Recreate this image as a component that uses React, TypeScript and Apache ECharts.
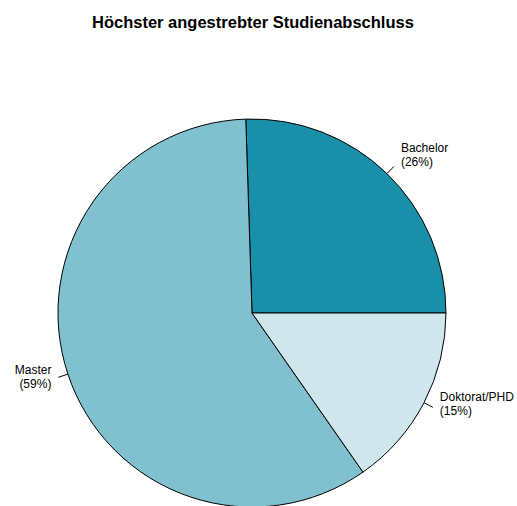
import React, { useEffect, useRef } from "react";
import * as echarts from "echarts";

const titleText = "Höchster angestrebter Studienabschluss";
const categories = ["Bachelor", "Master", "Doktorat/PHD"];
const counts = [25, 58, 15];
const colors = ["#1a8fa9", "#80c0cf", "#cfe7ec"];

export default function App() {
  const ref = useRef<HTMLDivElement>(null);
  useEffect(() => {
    if (!ref.current) return;
    const chart = echarts.init(ref.current, null, { renderer: "svg" });
    const total = counts.reduce((a, b) => a + b, 0);
    // vertical nudge of label block (px, negative = up), to mimic R's text placement
    const labelShift = [-11, 0, -3];
    chart.setOption({
      animation: false,
      backgroundColor: "#ffffff",
      title: {
        text: titleText,
        left: 92,
        top: 13,
        padding: 0,
        textStyle: {
          fontFamily: "Liberation Sans, Arial, sans-serif",
          fontSize: 16.5,
          fontWeight: "bold",
          color: "#000",
        },
      },
      series: [
        {
          type: "pie",
          center: [252, 313],
          radius: [0, 194],
          startAngle: 0,
          clockwise: false,
          avoidLabelOverlap: false,
          data: categories.map((c, i) => ({
            name: c,
            value: counts[i],
            itemStyle: { color: colors[i] },
          })),
          itemStyle: { borderColor: "#000", borderWidth: 1 },
          label: {
            show: true,
            position: "outside",
            formatter: (p: any) =>
              `${p.name}\n(${Math.round((p.value / total) * 100)}%)`,
            fontFamily: "Liberation Sans, Arial, sans-serif",
            fontSize: 12,
            lineHeight: 14,
            color: "#000",
            distanceToLabelLine: 7,
          },
          labelLine: {
            show: true,
            length: 10,
            length2: 0,
            smooth: false,
            lineStyle: { color: "#000", width: 1 },
          },
          labelLayout: (params: any) => ({
            dy: labelShift[params.dataIndex] || 0,
            labelLinePoints: params.labelLinePoints,
          }),
          emphasis: { disabled: true },
        },
      ],
    });
    return () => chart.dispose();
  }, []);
  return (
    <div
      ref={ref}
      style={{ position: "fixed", left: 0, top: 0, width: 517, height: 506 }}
    />
  );
}
